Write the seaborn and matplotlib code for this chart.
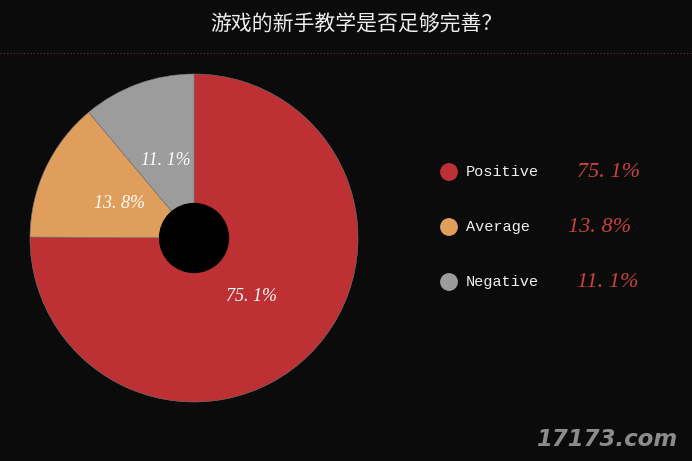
import seaborn as sns
import matplotlib.pyplot as plt
from matplotlib.patches import Circle

labels = ["Positive", "Average", "Negative"]
shares = [75.1, 13.8, 11.1]
title = "游戏的新手教学是否足够完善？"

sns.set_theme(style="dark")
plt.rcParams['font.family'] = ['Noto Sans CJK SC', 'DejaVu Sans']
colors = sns.color_palette(["#bd3033", "#e09e5c", "#9c9c9c"])
bg = "#0b0b0b"


def pct(v):
    # the reference prints the decimal point with a wide gap
    return f"{v:.1f}%".replace(".", ". ")


fig = plt.figure(figsize=(6.92, 4.61), dpi=100, facecolor=bg)
W, H = 692, 461

# overlay in pixel coordinates for title, legend, watermark
over = fig.add_axes([0, 0, 1, 1])
over.axis("off")

# pie
cx, cy, r = 194, 238, 164
ax = fig.add_axes([(cx - r) / W, (H - cy - r) / H, 2 * r / W, 2 * r / H])
ax.set_facecolor(bg)
wedges, texts = ax.pie(shares, colors=colors, startangle=90, counterclock=False,
                       labels=[pct(v) for v in shares], labeldistance=0.5,
                       wedgeprops=dict(linewidth=0.4, edgecolor="#777777"),
                       textprops=dict(color="white", fontsize=13, style="italic",
                                      family="Liberation Serif"))
for t in texts:
    t.set_ha("center")
    t.set_va("center")
ax.add_patch(Circle((0, 0), 0.21, color="black", zorder=5))
ax.set_xlim(-1, 1)
ax.set_ylim(-1, 1)
ax.set_aspect("equal")
ax.axis("off")

# title + dotted rule
over.text(356, 24, title, ha="center", va="center", color="#eeeeee", fontsize=15)
over.plot([0, W], [53, 53], color="#6a3030", linewidth=0.8, linestyle=(0, (1, 2)))

# legend
rows_y = [172, 227, 282]
pct_x = [577, 568, 577]
sns.scatterplot(x=[449] * 3, y=rows_y, hue=labels, palette=list(colors), s=165,
                linewidth=0, legend=False, ax=over)
for lab, val, y, px in zip(labels, shares, rows_y, pct_x):
    over.text(466, y, lab, ha="left", va="center", color="#f0f0f0",
              fontsize=11, family="Liberation Mono")
    over.text(px, y, pct(val), ha="left", va="center", color="#c8433f",
              fontsize=16, style="italic", family="Liberation Serif")
over.set_xlim(0, W)
over.set_ylim(H, 0)

# watermark
over.text(677, 439, "17173.com", ha="right", va="center", color="#8c8c8c",
          fontsize=16.5, weight="bold", style="italic", family="DejaVu Sans")

fig.savefig("out.png", dpi=100, facecolor=bg)
